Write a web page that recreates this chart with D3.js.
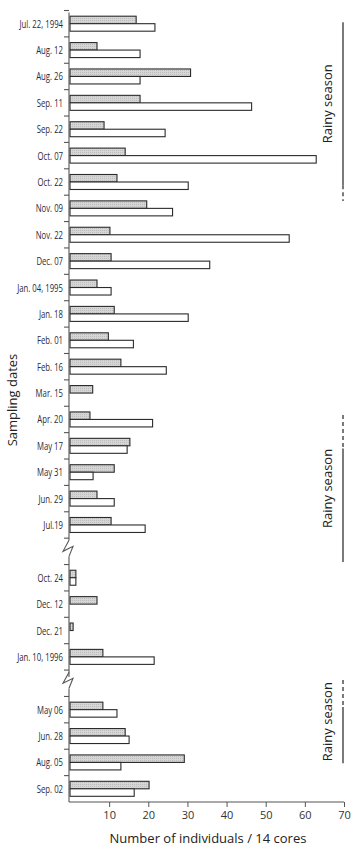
<!DOCTYPE html>
<html>
<head>
<meta charset="utf-8">
<script src="https://cdn.jsdelivr.net/npm/d3@7"></script>
<style>
  body { margin: 0; background: #fff; }
  .ylab { font-family: "Open Sans", sans-serif; font-size: 10.5px; fill: #2a2a3a; }
  .xlab { font-family: "Open Sans", sans-serif; font-size: 11px; fill: #333; }
  .title { font-family: "Open Sans", sans-serif; font-size: 13px; fill: #222; }
</style>
</head>
<body>
<div id="chart"></div>
<script>
// sampling dates, in three runs split by axis breaks
const dates1 = ['Jul. 22, 1994', 'Aug. 12', 'Aug. 26', 'Sep. 11', 'Sep. 22', 'Oct. 07', 'Oct. 22', 'Nov. 09', 'Nov. 22', 'Dec. 07',
  'Jan. 04, 1995', 'Jan. 18', 'Feb. 01', 'Feb. 16', 'Mar. 15', 'Apr. 20', 'May 17', 'May 31', 'Jun. 29', 'Jul.19'];
const dates2 = ['Oct. 24', 'Dec. 12', 'Dec. 21', 'Jan. 10, 1996'];
const dates3 = ['May 06', 'Jun. 28', 'Aug. 05', 'Sep. 02'];

// gray (upper) and white (lower) bar of each date, same order as dates
const grayVals = [16.9, 6.9, 30.8, 17.9, 8.7, 14.1, 12.0, 19.6, 10.2, 10.5,
  6.9, 11.3, 9.8, 13.0, 5.8, 5.1, 15.3, 11.3, 6.9, 10.5,
  1.5, 6.9, 0.8, 8.4,
  8.4, 14.1, 29.2, 20.2];
const whiteVals = [21.7, 17.9, 17.9, 46.4, 24.3, 62.9, 30.2, 26.2, 56.0, 35.7,
  10.5, 30.2, 16.2, 24.6, 0, 21.1, 14.6, 5.9, 11.3, 19.2,
  1.5, 0, 0, 21.5,
  12.0, 15.1, 13.0, 16.4];

const xTicks = [10, 20, 30, 40, 50, 60, 70];

// rainy season markers, in band slots: [dash start, solid start, solid end, dash end]
const seasons = [
  [0.45, 0.45, 6.62, 7.22],
  [15.33, 16.6, 20.9, 20.9],
  [25.38, 26.4, 28.53, 28.53]
];

const W = 355, H = 852;
const mLeft = 69, mRight = 344, mTop = 10.5, mBottom = 802;

const allDates = dates1.concat(dates2, dates3);
const slots = [...dates1, 'break1', ...dates2, 'break2', ...dates3];
const rows = allDates.map((d, i) => ({date: d, gray: grayVals[i], white: whiteVals[i]}));

const svg = d3.select('#chart').append('svg').attr('width', W).attr('height', H);

const x = d3.scaleLinear().domain([0, 70]).range([mLeft + 1, mRight]);
const y = d3.scaleBand().domain(slots).range([mTop, mBottom]).paddingInner(0).paddingOuter(0);
const step = y.step();
const ySub = d3.scaleBand().domain(['gray', 'white']).range([0, step]).paddingInner(0).paddingOuter(0.76);
const slotY = k => mTop + k * step;

// light stippled fill for the gray bars
const pat = svg.append('defs').append('pattern').attr('id', 'dots')
  .attr('width', 2).attr('height', 2).attr('patternUnits', 'userSpaceOnUse');
pat.append('rect').attr('width', 2).attr('height', 2).attr('fill', '#d6d6d6');
pat.append('rect').attr('width', 1).attr('height', 1).attr('fill', '#bdbdbd');

// bars
const g = svg.append('g');
g.selectAll('rect.gray').data(rows.filter(d => d.gray > 0)).join('rect')
  .attr('x', x(0)).attr('y', d => y(d.date) + ySub('gray'))
  .attr('width', d => x(d.gray) - x(0)).attr('height', ySub.bandwidth())
  .attr('fill', 'url(#dots)').attr('stroke', '#2b2b2b').attr('stroke-width', 1.1);
g.selectAll('rect.white').data(rows.filter(d => d.white > 0)).join('rect')
  .attr('x', x(0)).attr('y', d => y(d.date) + ySub('white'))
  .attr('width', d => x(d.white) - x(0)).attr('height', ySub.bandwidth())
  .attr('fill', '#fff').attr('stroke', '#2b2b2b').attr('stroke-width', 1.1);

// y axis, drawn in three pieces with zigzag breaks
const ax = svg.append('g').attr('stroke', '#555').attr('stroke-width', 1.1).attr('fill', 'none');
const b1 = y('break1'), b2 = y('break2');
const pieces = [[mTop + 2, b1 + 2], [b1 + step - 8, b2 + 7], [b2 + step - 8, mBottom]];
pieces.forEach(p => ax.append('line').attr('x1', mLeft).attr('x2', mLeft).attr('y1', p[0]).attr('y2', p[1]));
[b1, b2].forEach(b => {
  const c = b + step / 2;
  ax.append('path').attr('d', `M${mLeft},${c - 11}L${mLeft - 6},${c}L${mLeft + 4},${c - 5}L${mLeft},${c + 5}`);
});
// ticks at band edges
slots.forEach(s => ax.append('line').attr('x1', mLeft - 5).attr('x2', mLeft).attr('y1', y(s)).attr('y2', y(s)));

// condensed date labels
svg.append('g').selectAll('text').data(allDates).join('text')
  .attr('class', 'ylab')
  .attr('transform', d => `translate(${mLeft - 6},${y(d) + step / 2 + 4}) scale(0.74,1)`)
  .attr('text-anchor', 'end').text(d => d);

// x axis
const xg = svg.append('g').attr('transform', `translate(0,${mBottom})`)
  .call(d3.axisBottom(x).tickValues(xTicks).tickSize(5).tickPadding(4).tickSizeOuter(0));
xg.attr('font-size', null).attr('font-family', null);
xg.select('.domain').attr('stroke', '#555').attr('stroke-width', 1.1).attr('d', `M${mLeft},0H${mRight}`);
xg.selectAll('.tick line').attr('stroke', '#555');
xg.selectAll('.tick text').attr('class', 'xlab').attr('fill', '#333');

svg.append('text').attr('class', 'title').attr('x', 208).attr('y', 843).attr('text-anchor', 'middle')
  .text('Number of individuals / 14 cores');
svg.append('text').attr('class', 'title').attr('transform', 'translate(17,400) rotate(-90)')
  .attr('text-anchor', 'middle').attr('font-size', 14).text('Sampling dates');

// rainy season markers
const sx = 343;
seasons.forEach(s => {
  const sg = svg.append('g').attr('stroke', '#222').attr('stroke-width', 1.2);
  if (s[1] > s[0]) sg.append('line').attr('x1', sx).attr('x2', sx).attr('y1', slotY(s[0])).attr('y2', slotY(s[1])).attr('stroke-dasharray', '4,3');
  sg.append('line').attr('x1', sx).attr('x2', sx).attr('y1', slotY(s[1])).attr('y2', slotY(s[2]));
  if (s[3] > s[2]) sg.append('line').attr('x1', sx).attr('x2', sx).attr('y1', slotY(s[2])).attr('y2', slotY(s[3])).attr('stroke-dasharray', '4,3');
  const mid = s[0] === s[1] ? (slotY(s[1]) + slotY(s[2])) / 2 : (slotY(s[0]) + slotY(s[2])) / 2;
  svg.append('text').attr('class', 'title').attr('font-size', 12.5)
    .attr('transform', `translate(332,${mid}) rotate(-90)`).attr('text-anchor', 'middle').text('Rainy season');
});
</script>
</body>
</html>
